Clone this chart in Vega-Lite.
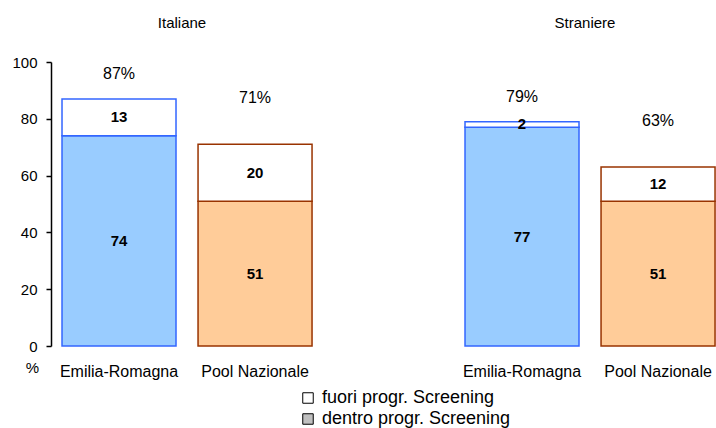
{
  "$schema": "https://vega.github.io/schema/vega-lite/v6.json",
  "background": "white",
  "padding": {"left": 11, "top": 16, "right": 0, "bottom": 0},
  "datasets": {
    "barre": [
      {"gruppo": "Italiane", "area": "Emilia-Romagna", "parte": "dentro progr. Screening", "valore": 74},
      {"gruppo": "Italiane", "area": "Emilia-Romagna", "parte": "fuori progr. Screening", "valore": 13},
      {"gruppo": "Italiane", "area": "Pool Nazionale", "parte": "dentro progr. Screening", "valore": 51},
      {"gruppo": "Italiane", "area": "Pool Nazionale", "parte": "fuori progr. Screening", "valore": 20},
      {"gruppo": "Straniere", "area": "Emilia-Romagna", "parte": "dentro progr. Screening", "valore": 77},
      {"gruppo": "Straniere", "area": "Emilia-Romagna", "parte": "fuori progr. Screening", "valore": 2},
      {"gruppo": "Straniere", "area": "Pool Nazionale", "parte": "dentro progr. Screening", "valore": 51},
      {"gruppo": "Straniere", "area": "Pool Nazionale", "parte": "fuori progr. Screening", "valore": 12}
    ],
    "totali": [
      {"gruppo": "Italiane", "area": "Emilia-Romagna", "totale": 87, "etichetta": "87%"},
      {"gruppo": "Italiane", "area": "Pool Nazionale", "totale": 71, "etichetta": "71%"},
      {"gruppo": "Straniere", "area": "Emilia-Romagna", "totale": 79, "etichetta": "79%"},
      {"gruppo": "Straniere", "area": "Pool Nazionale", "totale": 63, "etichetta": "63%"}
    ]
  },
  "config": {
    "font": "Liberation Sans",
    "view": {"stroke": null},
    "title": {"fontSize": 15, "fontWeight": "normal", "color": "#000000", "anchor": "middle", "frame": "group", "baseline": "alphabetic"},
    "axis": {"labelColor": "#000000", "domainColor": "#000000", "tickColor": "#000000", "grid": false},
    "legend": {"labelColor": "#000000"}
  },
  "spacing": 141,
  "resolve": {"scale": {"y": "shared", "fill": "shared", "stroke": "shared", "x": "shared"}, "legend": {"fill": "shared"}},
  "hconcat": [
    {
      "title": {"text": "Italiane", "offset": 24},
      "width": 262,
      "height": 284,
      "layer": [
        {
          "data": {"name": "barre"},
          "transform": [{"filter": "datum.gruppo === 'Italiane'"}],
          "mark": {"type": "bar", "strokeWidth": 1.5},
          "encoding": {
            "x": {"field": "area", "type": "nominal", "scale": {"domain": ["Emilia-Romagna", "Pool Nazionale"], "paddingInner": 0.162, "paddingOuter": 0.044, "align": 0.92}, "axis": {"title": null, "domain": false, "ticks": false, "labelAngle": 0, "labelFontSize": 16, "labelPadding": 17}},
            "y": {"field": "valore", "type": "quantitative", "stack": "zero", "scale": {"domain": [0, 100]}, "axis": {"title": "%", "titleAngle": 0, "titleX": -19, "titleY": 305, "titleAlign": "center", "titleBaseline": "middle", "titleFontSize": 15, "titleFontWeight": "normal", "titleColor": "#000000", "values": [0, 20, 40, 60, 80, 100], "tickSize": 5, "tickWidth": 1.5, "domainWidth": 1.5, "labelPadding": 9, "labelFontSize": 15}},
            "order": {"field": "parte", "sort": "ascending"},
            "fill": {"field": "parte", "type": "nominal", "scale": {"domain": ["fuori progr. Screening", "dentro progr. Screening"], "range": ["#ffffff", "#c0c0c0"]}, "legend": {"title": null, "orient": "none", "legendX": 248, "legendY": 327, "symbolType": "square", "symbolSize": 110, "symbolStrokeColor": "#000000", "symbolStrokeWidth": 1, "labelFontSize": 18, "labelLimit": 0, "rowPadding": 3, "labelOffset": 5}, "condition": [{"test": "datum.parte === 'dentro progr. Screening' && datum.area === 'Emilia-Romagna'", "value": "#99ccff"}, {"test": "datum.parte === 'dentro progr. Screening' && datum.area === 'Pool Nazionale'", "value": "#ffcc99"}]},
            "stroke": {"field": "area", "type": "nominal", "scale": {"domain": ["Emilia-Romagna", "Pool Nazionale"], "range": ["#3366ff", "#993300"]}, "legend": null}
          }
        },
        {
          "data": {"name": "barre"},
          "transform": [{"filter": "datum.gruppo === 'Italiane'"}],
          "mark": {"type": "text", "fontWeight": "bold", "fontSize": 15, "baseline": "middle", "color": "#000000"},
          "encoding": {
            "x": {"field": "area", "type": "nominal"},
            "y": {"field": "valore", "type": "quantitative", "stack": "zero", "bandPosition": 0.5},
            "detail": {"field": "parte"},
            "order": {"field": "parte", "sort": "ascending"},
            "text": {"field": "valore", "type": "quantitative"}
          }
        },
        {
          "data": {"name": "totali"},
          "transform": [{"filter": "datum.gruppo === 'Italiane' && datum.area === 'Emilia-Romagna'"}],
          "mark": {"type": "text", "fontSize": 16, "baseline": "middle", "dy": -24.5, "color": "#000000"},
          "encoding": {
            "x": {"field": "area", "type": "nominal"},
            "y": {"field": "totale", "type": "quantitative"},
            "text": {"field": "etichetta"}
          }
        },
        {
          "data": {"name": "totali"},
          "transform": [{"filter": "datum.gruppo === 'Italiane' && datum.area === 'Pool Nazionale'"}],
          "mark": {"type": "text", "fontSize": 16, "baseline": "middle", "dy": -46.5, "color": "#000000"},
          "encoding": {
            "x": {"field": "area", "type": "nominal"},
            "y": {"field": "totale", "type": "quantitative"},
            "text": {"field": "etichetta"}
          }
        }
      ]
    },
    {
      "title": {"text": "Straniere", "offset": 31},
      "width": 262,
      "height": 284,
      "layer": [
        {
          "data": {"name": "barre"},
          "transform": [{"filter": "datum.gruppo === 'Straniere'"}],
          "mark": {"type": "bar", "strokeWidth": 1.5},
          "encoding": {
            "x": {"field": "area", "type": "nominal", "scale": {"domain": ["Emilia-Romagna", "Pool Nazionale"], "paddingInner": 0.162, "paddingOuter": 0.044, "align": 0.92}, "axis": {"title": null, "domain": false, "ticks": false, "labelAngle": 0, "labelFontSize": 16, "labelPadding": 17}},
            "y": {"field": "valore", "type": "quantitative", "stack": "zero", "scale": {"domain": [0, 100]}, "axis": null},
            "order": {"field": "parte", "sort": "ascending"},
            "fill": {"field": "parte", "type": "nominal", "scale": {"domain": ["fuori progr. Screening", "dentro progr. Screening"], "range": ["#ffffff", "#c0c0c0"]}, "condition": [{"test": "datum.parte === 'dentro progr. Screening' && datum.area === 'Emilia-Romagna'", "value": "#99ccff"}, {"test": "datum.parte === 'dentro progr. Screening' && datum.area === 'Pool Nazionale'", "value": "#ffcc99"}]},
            "stroke": {"field": "area", "type": "nominal", "scale": {"domain": ["Emilia-Romagna", "Pool Nazionale"], "range": ["#3366ff", "#993300"]}, "legend": null}
          }
        },
        {
          "data": {"name": "barre"},
          "transform": [{"filter": "datum.gruppo === 'Straniere'"}],
          "mark": {"type": "text", "fontWeight": "bold", "fontSize": 15, "baseline": "middle", "color": "#000000"},
          "encoding": {
            "x": {"field": "area", "type": "nominal"},
            "y": {"field": "valore", "type": "quantitative", "stack": "zero", "bandPosition": 0.5},
            "detail": {"field": "parte"},
            "order": {"field": "parte", "sort": "ascending"},
            "text": {"field": "valore", "type": "quantitative"}
          }
        },
        {
          "data": {"name": "totali"},
          "transform": [{"filter": "datum.gruppo === 'Straniere' && datum.area === 'Emilia-Romagna'"}],
          "mark": {"type": "text", "fontSize": 16, "baseline": "middle", "dy": -24.5, "color": "#000000"},
          "encoding": {
            "x": {"field": "area", "type": "nominal"},
            "y": {"field": "totale", "type": "quantitative"},
            "text": {"field": "etichetta"}
          }
        },
        {
          "data": {"name": "totali"},
          "transform": [{"filter": "datum.gruppo === 'Straniere' && datum.area === 'Pool Nazionale'"}],
          "mark": {"type": "text", "fontSize": 16, "baseline": "middle", "dy": -46.5, "color": "#000000"},
          "encoding": {
            "x": {"field": "area", "type": "nominal"},
            "y": {"field": "totale", "type": "quantitative"},
            "text": {"field": "etichetta"}
          }
        }
      ]
    }
  ]
}
